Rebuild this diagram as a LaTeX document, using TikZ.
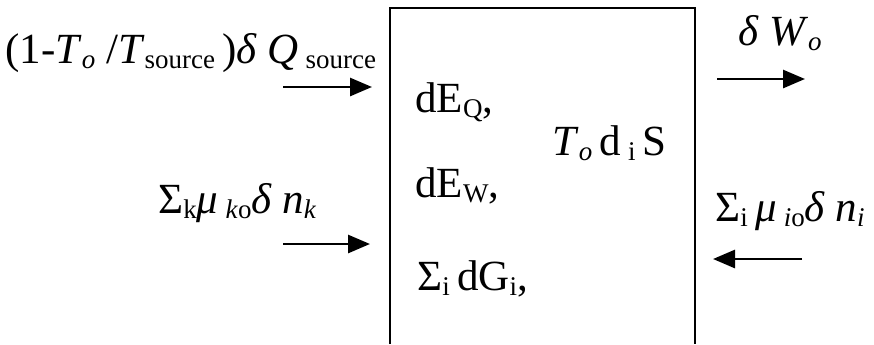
\documentclass[tikz,border=0pt]{standalone}
\usepackage{fontspec}
\setmainfont{Liberation Serif}
\usetikzlibrary{arrows.meta}
\newcommand{\lo}[1]{\raisebox{-0.3ex}{\fontsize{13.5}{16}\selectfont #1}}
\begin{document}
\begin{tikzpicture}[x=0.5pt, y=-0.5pt,
    every node/.append style={font=\fontsize{21.5}{25}\selectfont, inner sep=0pt, anchor=base west},
    flow/.style={line width=1.4pt, -{Triangle[length=11pt,width=9pt]}}]
  \useasboundingbox (0,0) rectangle (874,344);
  % control volume, open at the bottom
  \draw[line width=0.9pt] (390,344) -- (390,8) -- (695,8) -- (695,344);
  \node (heat) at (5,63) {(1-\textit{T}\lo{\textit{o}} /\textit{T}\lo{source}\,)\textit{δ Q}\,\lo{source}};
  \node (matin) at (158,213) {Σ\lo{k}\textit{μ}\,\lo{\textit{k}o}\textit{δ n}\lo{\textit{k}}};
  \node (eq) at (415,112) {dE\lo{Q},};
  \node (ew) at (415,197) {dE\lo{W},};
  \node (dg) at (417,290) {Σ\lo{i}\,dG\lo{i},};
  \node (gen) at (552,155) {\textit{T}\lo{\textit{o}}\,d\,\lo{i}\,S};
  \node (work) at (738,45) {\textit{δ W}\lo{\textit{o}}};
  \node (matout) at (715,221) {Σ\lo{i}\,\textit{μ}\,\lo{\textit{i}o}\textit{δ n}\lo{\textit{i}}};
  % flows
  \coordinate (q1) at (283,87);  \coordinate (q2) at (372,87);
  \coordinate (k1) at (283,244); \coordinate (k2) at (370,244);
  \coordinate (w1) at (717,79);  \coordinate (w2) at (805,79);
  \coordinate (i1) at (802,259); \coordinate (i2) at (713,259);
  \draw[flow] (q1) -- (q2);
  \draw[flow] (k1) -- (k2);
  \draw[flow] (w1) -- (w2);
  \draw[flow] (i1) -- (i2);
\end{tikzpicture}
\end{document}
